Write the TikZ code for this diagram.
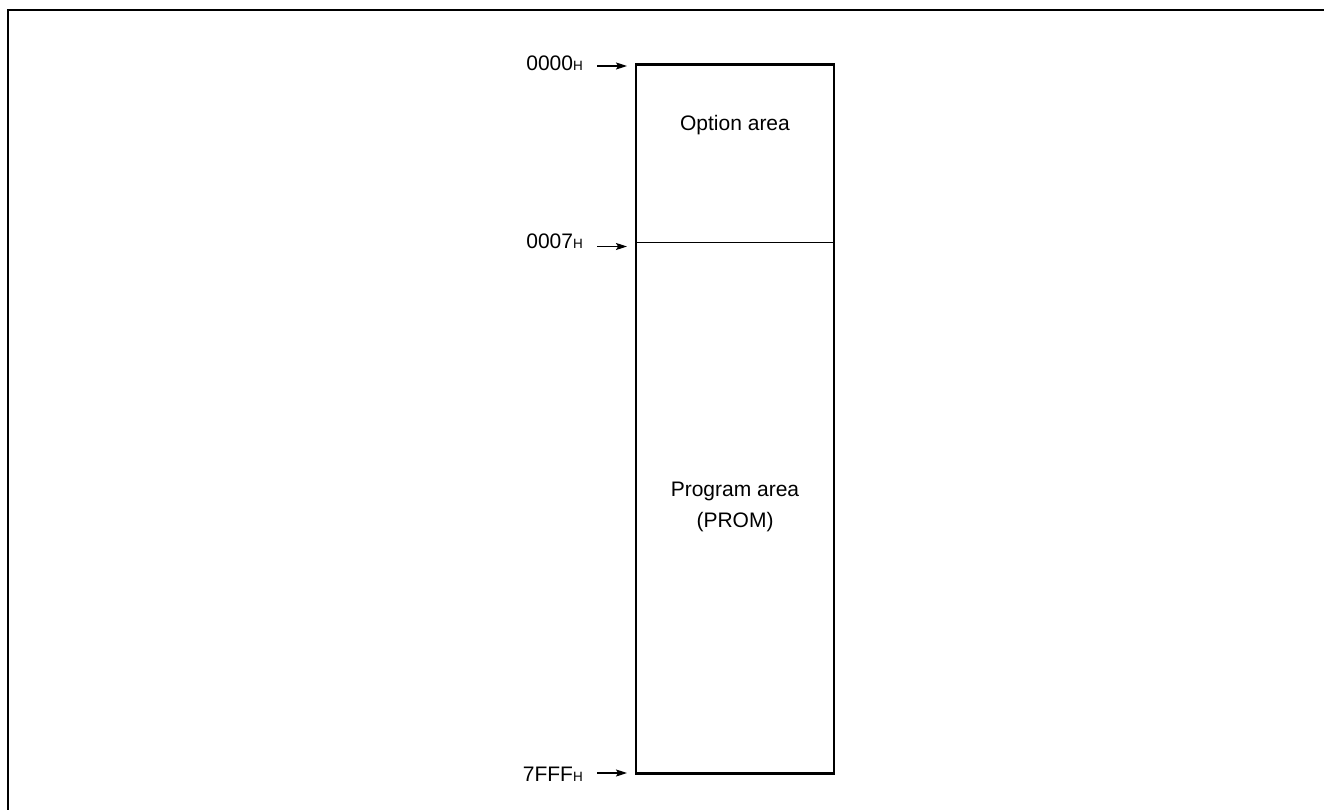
\documentclass[tikz,border=0pt]{standalone}
\usepackage{fontspec}
\setmainfont{Liberation Sans}
\usetikzlibrary{arrows.meta}
\newcommand\hsub[1]{{\fontsize{13.5}{13.5}\selectfont #1}}
\begin{document}
\begin{tikzpicture}[x=1pt,y=-1pt,
  lbl/.style={anchor=base east, inner sep=0pt, font=\fontsize{21}{21}\selectfont},
  area/.style={align=center, inner sep=0pt, font=\fontsize{21}{31}\selectfont},
  ptr/.style={line width=1.2pt, -{Stealth[length=11pt,width=7pt,inset=2pt]}},
  frameline/.style={line width=2pt},
  membox/.style={draw, line width=2.5pt, inner sep=0pt, outer sep=0pt, anchor=north west},
]
\useasboundingbox (0,0) rectangle (1324,810);
\draw[frameline] (1324,10) -- (8,10) -- (8,810);
% memory box
\node[membox, minimum width=198pt, minimum height=709pt] (mem) at (636,64.5) {};
\coordinate (divL) at (636,242.5);
\coordinate (divR) at (834,242.5);
\draw[line width=1pt] (divL) -- (divR);
% area labels
\node[area] (opt) at (735,125) {Option area};
\node[area] (prog) at (735,507) {Program area\\(PROM)};
% address labels
\node[lbl] (l0) at (583,71) {0000\hsub{H}};
\node[lbl] (l7) at (583,248) {0007\hsub{H}};
\node[lbl] (lf) at (583,781) {7FFF\hsub{H}};
% pointers
\coordinate (a0s) at (597,66);  \coordinate (a0e) at (627,66);
\coordinate (a7s) at (597,246.5); \coordinate (a7e) at (627,246.5);
\coordinate (afs) at (597,773); \coordinate (afe) at (627,773);
\draw[ptr] (a0s) -- (a0e);
\draw[ptr] (a7s) -- (a7e);
\draw[ptr] (afs) -- (afe);
\end{tikzpicture}
\end{document}
